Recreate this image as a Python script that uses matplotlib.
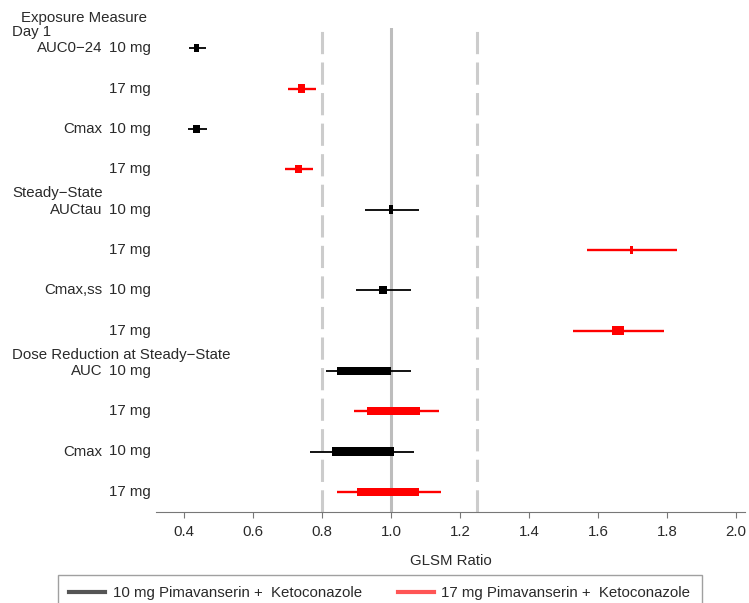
import matplotlib
matplotlib.use("Agg")
import matplotlib.pyplot as plt
from matplotlib.lines import Line2D
from matplotlib.transforms import blended_transform_factory

plt.rcParams["font.family"] = ["Liberation Sans", "DejaVu Sans"]
plt.rcParams["lines.scale_dashes"] = False

# ── Data ─────────────────────────────────────────────────────────────────────
group_names = ["Day 1", "Steady\u2212State", "Dose Reduction at Steady\u2212State"]
group_first_row = [0, 4, 8]
measures = ["AUC0\u221224", "", "Cmax", "", "AUCtau", "", "Cmax,ss", "",
            "AUC", "", "Cmax", ""]
doses = ["10 mg", "17 mg"] * 6
ci_low = [0.415, 0.702, 0.411, 0.693, 0.925, 1.567, 0.899, 1.527,
          0.811, 0.893, 0.765, 0.843]
ci_high = [0.463, 0.782, 0.468, 0.773, 1.082, 1.830, 1.058, 1.790,
           1.058, 1.138, 1.068, 1.145]
box_low = [0.430, 0.731, 0.427, 0.722, 0.995, 1.692, 0.965, 1.640,
           0.843, 0.931, 0.828, 0.900]
box_high = [0.444, 0.751, 0.446, 0.741, 1.005, 1.700, 0.988, 1.675,
            1.000, 1.084, 1.009, 1.081]
xticks = [0.4, 0.6, 0.8, 1.0, 1.2, 1.4, 1.6, 1.8, 2.0]
ref_lines = [0.8, 1.25]
series_labels = ["10 mg Pimavanserin +  Ketoconazole",
                 "17 mg Pimavanserin +  Ketoconazole"]
series_colors = ["black", "red"]

text_color = "#2a2a2a"
fs = 10.8

fig = plt.figure(figsize=(7.49, 6.03), dpi=100)
ax = fig.add_axes([156 / 749, 1 - 512 / 603, 589 / 749, 484 / 603])

ax.axvline(1.0, color="#bdbdbd", linewidth=2.2, zorder=0)
for x in ref_lines:
    ax.axvline(x, color="#cccccc", linewidth=2.2, dashes=(16, 6), zorder=0)

for i in range(len(doses)):
    color = series_colors[i % 2]
    lw = 1.3 if color == "black" else 1.7
    ax.hlines(i, ci_low[i], ci_high[i], color=color, linewidth=lw, zorder=2)
    ax.barh(i, box_high[i] - box_low[i], left=box_low[i], height=0.21,
            color=color, linewidth=0, zorder=3)

ax.set_xlim(0.3188, 2.026)
ax.set_ylim(11.5, -0.5)
ax.set_xticks(xticks)
ax.set_xticklabels([f"{t:.1f}" for t in xticks], fontsize=fs, color=text_color)
ax.tick_params(axis="x", length=4, color="#777777", pad=5)
ax.set_yticks([])
for side in ["left", "right", "top"]:
    ax.spines[side].set_visible(False)
ax.spines["bottom"].set_color("#777777")
ax.set_xlabel("GLSM Ratio", fontsize=fs, color=text_color, labelpad=11)

trans = blended_transform_factory(ax.transAxes, ax.transData)
for i in range(len(doses)):
    ax.text(-0.0085, i, doses[i], transform=trans, ha="right", va="center",
            fontsize=fs, color=text_color)
    if measures[i]:
        ax.text(-0.0917, i, measures[i], transform=trans, ha="right",
                va="center", fontsize=fs, color=text_color)
for name, row in zip(group_names, group_first_row):
    ax.text(-0.2445, row - 0.4, name, transform=trans, ha="left",
            va="center", fontsize=fs, color=text_color)
ax.text(-0.23, -0.75, "Exposure Measure", transform=trans, ha="left",
        va="center", fontsize=fs, color=text_color, clip_on=False)

handles = [Line2D([], [], color="#555555", linewidth=3),
           Line2D([], [], color="#ff5555", linewidth=3)]
leg = fig.legend(handles, series_labels, loc="upper left",
                 bbox_to_anchor=(58 / 749, 1 - 575 / 603), ncol=2,
                 fontsize=fs, frameon=True, fancybox=False,
                 handlelength=2.4, handletextpad=0.5, columnspacing=2.4,
                 borderaxespad=0, borderpad=0.75)
leg.get_frame().set_edgecolor("#888888")
leg.get_frame().set_linewidth(1.0)
for t in leg.get_texts():
    t.set_color(text_color)

fig.savefig("out.png", dpi=100)
